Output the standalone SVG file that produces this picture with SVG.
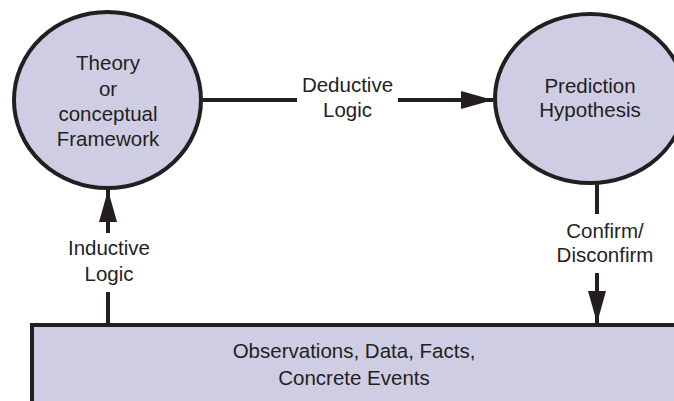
<svg xmlns="http://www.w3.org/2000/svg" width="674" height="401" viewBox="0 0 674 401">
  <defs>
    <style>
      .node { fill: #cfcde3; stroke: #231f20; stroke-width: 4; }
      .edge { fill: none; stroke: #231f20; stroke-width: 4; }
      .label { font-family: "Liberation Sans", Arial, Helvetica, sans-serif; font-size: 20.5px; fill: #231f20; text-anchor: middle; }
    </style>
    <marker id="arrowhead" markerUnits="userSpaceOnUse" viewBox="0 0 32 18" refX="32" refY="9" markerWidth="32" markerHeight="18" orient="auto">
      <path d="M0,0 L32,9 L0,18 Z" fill="#231f20"/>
    </marker>
  </defs>

  <rect width="674" height="401" fill="#ffffff"/>

  <!-- connectors -->
  <g id="connectors">
    <line class="edge" x1="203" y1="100" x2="297" y2="100"/>
    <line class="edge" x1="398" y1="100" x2="493" y2="100" marker-end="url(#arrowhead)"/>
    <line class="edge" x1="108" y1="325" x2="108" y2="292"/>
    <line class="edge" x1="108" y1="233" x2="108" y2="190" marker-end="url(#arrowhead)"/>
    <line class="edge" x1="597" y1="184" x2="597" y2="214"/>
    <line class="edge" x1="597" y1="273" x2="597" y2="323" marker-end="url(#arrowhead)"/>
  </g>

  <!-- connector labels -->
  <g id="edge-labels">
    <text class="label" x="347.5" y="92">Deductive</text>
    <text class="label" x="347.5" y="117">Logic</text>
    <text class="label" x="109" y="255">Inductive</text>
    <text class="label" x="109" y="281">Logic</text>
    <text class="label" x="605" y="238">Confirm/</text>
    <text class="label" x="605" y="262">Disconfirm</text>
  </g>

  <!-- nodes -->
  <g id="theory">
    <ellipse class="node" cx="107.5" cy="100" rx="93.5" ry="88"/>
    <text class="label" x="108" y="70">Theory</text>
    <text class="label" x="108" y="96">or</text>
    <text class="label" x="108" y="121">conceptual</text>
    <text class="label" x="108" y="146">Framework</text>
  </g>

  <g id="prediction">
    <ellipse class="node" cx="590" cy="98.5" rx="95" ry="84.5"/>
    <text class="label" x="590" y="93">Prediction</text>
    <text class="label" x="590" y="117">Hypothesis</text>
  </g>

  <g id="observations">
    <rect class="node" x="32" y="325" width="700" height="200"/>
    <text class="label" x="354" y="358">Observations, Data, Facts,</text>
    <text class="label" x="354" y="385">Concrete Events</text>
  </g>
</svg>
